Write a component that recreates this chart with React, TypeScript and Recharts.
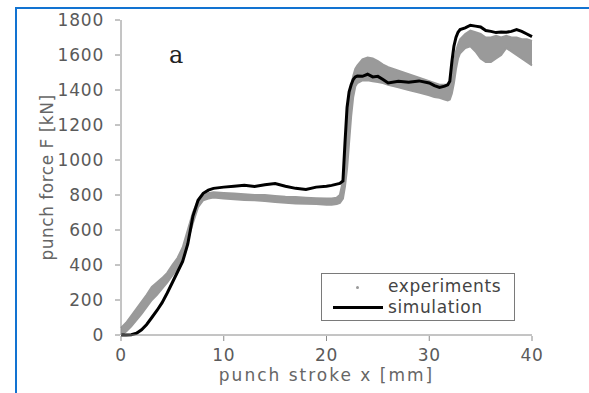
import React from 'react';
import { ComposedChart, Line, Area, XAxis, YAxis, Label } from 'recharts';

const strokeX = [0, 0.5, 1, 1.5, 2, 2.5, 3, 3.5, 4, 4.5, 5, 5.5, 6, 6.5, 7, 7.5, 8, 8.5, 9, 10, 11, 12, 13, 14, 15, 16, 17, 18, 19, 20, 20.5, 21, 21.3, 21.6, 21.8, 22, 22.2, 22.4, 22.6, 22.8, 23, 23.5, 24, 24.5, 25, 25.5, 26, 27, 28, 29, 30, 30.5, 31, 31.5, 31.8, 32, 32.2, 32.4, 32.6, 32.8, 33, 33.5, 34, 34.5, 35, 35.5, 36, 36.5, 37, 37.5, 38, 38.5, 39, 39.5, 40];

const simulation = [0, 0, 2, 10, 30, 60, 100, 140, 185, 240, 300, 360, 420, 520, 680, 770, 810, 828, 838, 845, 850, 855, 848, 858, 865, 850, 838, 832, 845, 850, 855, 862, 866, 880, 1100, 1300, 1390, 1430, 1460, 1475, 1480, 1478, 1490, 1475, 1478, 1460, 1440, 1450, 1445, 1452, 1440, 1425, 1415, 1422, 1430, 1450, 1560, 1650, 1700, 1730, 1745, 1755, 1770, 1765, 1760, 1740, 1735, 1728, 1732, 1730, 1735, 1745, 1735, 1720, 1705];

const experimentsLow = [0, 20, 50, 85, 120, 160, 200, 230, 265, 300, 340, 380, 440, 540, 640, 730, 770, 780, 785, 780, 775, 772, 770, 765, 760, 755, 752, 750, 748, 745, 745, 748, 755, 780, 850, 950, 1100, 1250, 1360, 1420, 1440, 1455, 1455, 1450, 1445, 1440, 1430, 1415, 1400, 1385, 1370, 1360, 1355, 1345, 1340, 1345, 1380, 1440, 1520, 1580, 1610, 1640, 1650, 1620, 1580, 1560, 1560, 1580, 1600, 1640, 1620, 1600, 1580, 1560, 1540];

const experimentsHigh = [40, 70, 110, 150, 190, 230, 275, 300, 325, 355, 400, 440, 500, 600, 700, 770, 800, 810, 815, 812, 808, 805, 800, 800, 795, 790, 788, 785, 782, 780, 780, 785, 800, 880, 1000, 1200, 1330, 1420, 1480, 1520, 1540, 1575, 1585, 1580, 1565, 1545, 1530, 1510, 1490, 1470, 1450, 1440, 1430, 1430, 1430, 1440, 1480, 1560, 1620, 1660, 1690, 1720, 1740, 1730, 1720, 1700, 1700, 1710, 1700, 1710, 1700, 1700, 1690, 1690, 1680];

const xTicks = [0, 10, 20, 30, 40];
const yTicks = [0, 200, 400, 600, 800, 1000, 1200, 1400, 1600, 1800];

const data = strokeX.map((x, i) => ({
  x,
  sim: simulation[i],
  exp: [experimentsLow[i], experimentsHigh[i]],
}));

const TICK_COLOR = '#5a5a5a';
const AXIS_COLOR = '#8a8a8a';
const FONT = '"DejaVu Sans", sans-serif';

const YTick = (props: any) => {
  const { x, y, payload } = props;
  const ax = x + 11;
  return (
    <g>
      <line x1={ax} x2={ax + 5} y1={y} y2={y} stroke={AXIS_COLOR} strokeWidth={1} />
      <text x={x} y={y} dy="0.36em" textAnchor="end" fill={TICK_COLOR} fontSize={17} fontFamily={FONT} letterSpacing={0.8}>
        {payload.value}
      </text>
    </g>
  );
};

const XTick = (props: any) => {
  const { x, y, payload } = props;
  const ay = y - 8;
  return (
    <g>
      <line x1={x} x2={x} y1={ay} y2={ay - 5} stroke={AXIS_COLOR} strokeWidth={1} />
      <text x={x} y={y} dy="0.72em" textAnchor="middle" fill={TICK_COLOR} fontSize={17} fontFamily={FONT} letterSpacing={0.8}>
        {payload.value}
      </text>
    </g>
  );
};

const LegendBox = () => (
  <div
    style={{
      position: 'absolute',
      left: 321,
      top: 273,
      width: 194,
      height: 48,
      border: '1.5px solid #7a7a7a',
      boxSizing: 'border-box',
      background: 'white',
      fontFamily: FONT,
      fontSize: 17,
      color: '#444',
      letterSpacing: 0.6,
    }}
  >
    <div style={{ position: 'absolute', left: 34, top: 12, width: 3, height: 3, background: '#999', borderRadius: 2 }} />
    <div style={{ position: 'absolute', left: 66, top: 2, lineHeight: '20px' }}>experiments</div>
    <div style={{ position: 'absolute', left: 11, top: 32, width: 50, height: 3, background: '#000' }} />
    <div style={{ position: 'absolute', left: 66, top: 23, lineHeight: '20px' }}>simulation</div>
  </div>
);

export default function App() {
  return (
    <div style={{ position: 'absolute', left: 0, top: 0, width: 589, height: 393, background: 'white', overflow: 'hidden' }}>
      <div
        style={{
          position: 'absolute',
          left: 15,
          top: 7,
          width: 589,
          height: 400,
          borderTop: '2px solid #1273d1',
          borderLeft: '2px solid #1273d1',
          boxSizing: 'border-box',
        }}
      />
      <ComposedChart width={589} height={393} data={data} margin={{ top: 20, right: 57, bottom: 18, left: 61 }}>
        <XAxis
          dataKey="x"
          type="number"
          domain={[0, 40]}
          ticks={xTicks}
          tickLine={false}
          tickMargin={8}
          tick={<XTick />}
          stroke={AXIS_COLOR}
          height={40}
          interval={0}
        >
          <Label
            value="punch stroke x [mm]"
            position="insideBottom"
            offset={-6}
            fill="#666"
            fontSize={17}
            fontFamily={FONT}
            letterSpacing={2}
          />
        </XAxis>
        <YAxis
          type="number"
          domain={[0, 1800]}
          ticks={yTicks}
          tickLine={false}
          tickMargin={11}
          tick={<YTick />}
          stroke={AXIS_COLOR}
          width={60}
          interval={0}
        >
          <Label
            value="punch force F [kN]"
            angle={-90}
            position="insideLeft"
            offset={-14}
            fill="#666"
            fontSize={17}
            fontFamily={FONT}
            letterSpacing={0.5}
            style={{ textAnchor: 'middle' }}
          />
        </YAxis>
        <Area
          type="linear"
          dataKey="exp"
          stroke="#9a9a9a"
          strokeWidth={2}
          fill="#9a9a9a"
          fillOpacity={1}
          isAnimationActive={false}
          dot={false}
          activeDot={false}
          name="experiments"
        />
        <Line
          type="linear"
          dataKey="sim"
          stroke="#000"
          strokeWidth={3}
          dot={false}
          activeDot={false}
          isAnimationActive={false}
          name="simulation"
        />
      </ComposedChart>
      <LegendBox />
      <div
        style={{
          position: 'absolute',
          left: 169,
          top: 41,
          fontFamily: '"DejaVu Serif", "Liberation Serif", serif',
          fontSize: 24,
          color: '#222',
          lineHeight: '28px',
        }}
      >
        a
      </div>
    </div>
  );
}
